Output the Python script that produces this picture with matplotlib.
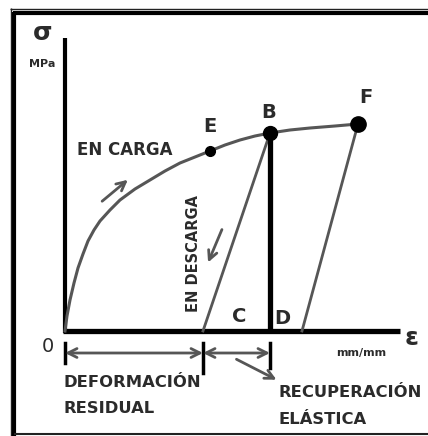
import matplotlib
matplotlib.use("Agg")
import matplotlib.pyplot as plt
from matplotlib.lines import Line2D

plt.rcParams['font.family'] = ['DejaVu Sans']

# Loading curve (strain, stress) in diagram units
load_strain = [0.0, 0.02, 0.05, 0.09, 0.13, 0.18, 0.23, 0.29, 0.35, 0.45, 0.55, 0.70, 0.85, 1.00, 1.15, 1.30, 1.45, 1.60, 1.75, 1.90, 2.05, 2.25, 2.45, 2.70, 2.93]
load_stress = [0.0, 0.15, 0.31, 0.48, 0.63, 0.77, 0.90, 1.01, 1.10, 1.21, 1.31, 1.42, 1.51, 1.60, 1.68, 1.74, 1.80, 1.86, 1.91, 1.95, 1.98, 2.01, 2.03, 2.05, 2.07]

# Key points
pt_E = (1.45, 1.80)
pt_B = (2.05, 1.98)
pt_F = (2.93, 2.07)
pt_C = (1.38, 0.0)
pt_D = (2.05, 0.0)
pt_F0 = (2.37, 0.0)

y_axis_top = 2.93
x_axis_end = 3.35

TXT = '#2b2b2b'
CURVE = '#565656'

fig = plt.figure(figsize=(4.28, 4.36), dpi=100)
ax = fig.add_axes([0, 0, 1, 1])
ax.set_xlim(-0.65, 3.63)
ax.set_ylim(-1.05, 3.31)
ax.axis('off')

# Frame around the diagram
def fline(x, y, lw, color):
    fig.add_artist(Line2D(x, y, transform=fig.transFigure, lw=lw, color=color,
                          solid_capstyle='butt'))

W, H = 428.0, 436.0
fline([10.5 / W, 10.5 / W], [0, 1 - 8.5 / H], 1.0, '#222222')
fline([14.5 / W, 14.5 / W], [0, 1 - 12 / H], 3.0, 'black')
fline([10 / W, 1], [1 - 9 / H, 1 - 9 / H], 1.0, '#222222')
fline([13 / W, 1], [1 - 13.5 / H, 1 - 13.5 / H], 3.0, 'black')
fline([14 / W, 1], [1 - 433.5 / H, 1 - 433.5 / H], 1.5, '#222222')

# Axes
ax.plot([0, 0], [-0.02, y_axis_top], color='black', lw=3.0, solid_capstyle='butt')
ax.plot([-0.02, x_axis_end], [0, 0], color='black', lw=3.8, solid_capstyle='butt')

# Loading curve
ax.plot(load_strain, load_stress, color=CURVE, lw=2.2)

# Unloading lines
ax.plot([pt_B[0], pt_C[0]], [pt_B[1], pt_C[1]], color=CURVE, lw=2.0)
ax.plot([pt_F[0], pt_F0[0]], [pt_F[1], pt_F0[1]], color=CURVE, lw=2.0)

# Elastic recovery line B-D
ax.plot([pt_B[0], pt_D[0]], [pt_B[1], pt_D[1]], color='black', lw=3.8, solid_capstyle='butt')

# Points
ax.plot(*pt_E, 'o', color='black', ms=7)
ax.plot(*pt_B, 'o', color='black', ms=10)
ax.plot(*pt_F, 'o', color='black', ms=11)

# Point labels
lbl = dict(fontsize=14, fontweight='bold', color=TXT, ha='center', va='center')
ax.text(pt_E[0], 2.05, 'E', **lbl)
ax.text(2.04, 2.19, 'B', **lbl)
ax.text(3.01, 2.34, 'F', **lbl)
ax.text(1.74, 0.15, 'C', **lbl)
ax.text(2.17, 0.13, 'D', **lbl)
ax.text(-0.17, -0.15, '0', fontsize=14, color=TXT, ha='center', va='center')

# Axis labels
ax.text(-0.22, 2.98, 'σ', fontsize=18, fontweight='bold', color=TXT, ha='center', va='center')
ax.text(-0.23, 2.67, 'MPa', fontsize=8, fontweight='bold', color=TXT, ha='center', va='center')
ax.text(3.47, -0.07, 'ε', fontsize=18, fontweight='bold', color=TXT, ha='center', va='center')
ax.text(2.96, -0.22, 'mm/mm', fontsize=8, fontweight='bold', color=TXT, ha='center', va='center')

# Curve annotations
ax.text(0.60, 1.81, 'EN CARGA', fontsize=12, fontweight='bold', color=TXT, ha='center', va='center')
ax.annotate('', xy=(0.65, 1.53), xytext=(0.35, 1.28),
            arrowprops=dict(arrowstyle='->', color=CURVE, lw=2.0, mutation_scale=16))
ax.text(1.28, 0.78, 'EN DESCARGA', fontsize=10.5, fontweight='bold', color=TXT,
        ha='center', va='center', rotation=90)
ax.annotate('', xy=(1.42, 0.66), xytext=(1.58, 1.04),
            arrowprops=dict(arrowstyle='->', color=CURVE, lw=2.0, mutation_scale=16))

# Dimension lines below the strain axis
dim_y = -0.22
ax.annotate('', xy=(0, dim_y), xytext=(pt_C[0], dim_y),
            arrowprops=dict(arrowstyle='<->', color=CURVE, lw=2.0, mutation_scale=16,
                            shrinkA=0, shrinkB=0))
ax.annotate('', xy=(pt_C[0], dim_y), xytext=(pt_D[0], dim_y),
            arrowprops=dict(arrowstyle='<->', color=CURVE, lw=2.0, mutation_scale=16,
                            shrinkA=0, shrinkB=0))
ax.plot([0, 0], [-0.12, -0.32], color='black', lw=2.5)
ax.plot([pt_C[0], pt_C[0]], [-0.12, -0.42], color='black', lw=2.5)
ax.plot([pt_D[0], pt_D[0]], [-0.12, -0.37], color='black', lw=2.5)

blk = dict(fontsize=11.8, fontweight='bold', color=TXT, ha='left', va='center')
ax.text(-0.02, -0.51, 'DEFORMACIÓN', **blk)
ax.text(-0.02, -0.77, 'RESIDUAL', **blk)
ax.annotate('', xy=(2.14, -0.50), xytext=(1.69, -0.27),
            arrowprops=dict(arrowstyle='->', color=CURVE, lw=2.0, mutation_scale=16))
ax.text(2.13, -0.61, 'RECUPERACIÓN', **blk)
ax.text(2.13, -0.88, 'ELÁSTICA', **blk)

fig.savefig('out.png', dpi=100)
